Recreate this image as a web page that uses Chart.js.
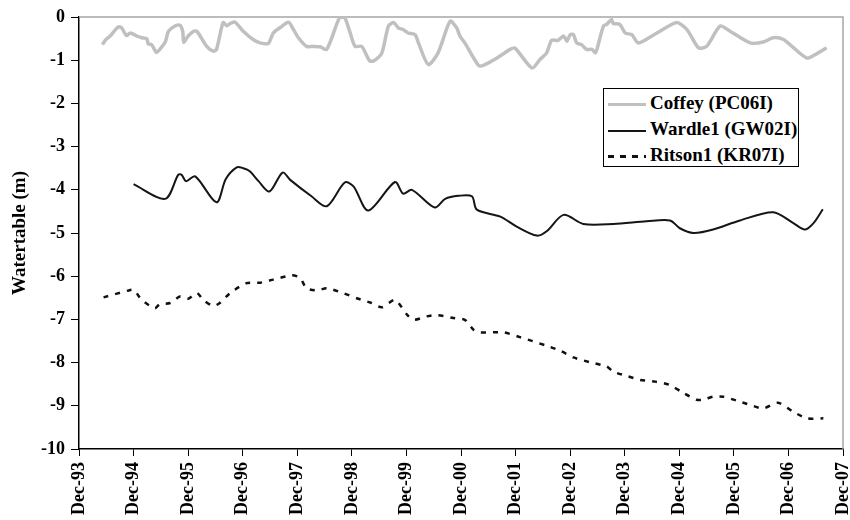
<!DOCTYPE html>
<html>
<head>
<meta charset="utf-8">
<script src="https://cdn.jsdelivr.net/npm/chart.js@4.4.1/dist/chart.umd.min.js"></script>
<style>
  body { margin: 0; background: #fff; }
  #wrap { position: relative; width: 850px; height: 520px; }
  #legend {
    position: absolute; left: 603px; top: 88px; width: 196px; height: 79px;
    border: 1px solid #000; background: #fff;
    font: bold 19px 'Liberation Serif', 'Times New Roman', serif; color: #000;
    box-sizing: border-box; padding-top: 1px;
  }
  #legend .row { height: 26px; line-height: 26px; white-space: nowrap; }
  #legend .swatch { display: inline-block; width: 38px; margin: 0 4px 0 4px; vertical-align: middle; }
</style>
</head>
<body>
<div id="wrap">
  <canvas id="chartWater" width="850" height="520"></canvas>
  <div id="legend"></div>
</div>
<script>
// Niveles freáticos (m) - eje x en años desde Dec-93
const tickLabels = ['Dec-93', 'Dec-94', 'Dec-95', 'Dec-96', 'Dec-97', 'Dec-98', 'Dec-99',
                    'Dec-00', 'Dec-01', 'Dec-02', 'Dec-03', 'Dec-04', 'Dec-05', 'Dec-06', 'Dec-07'];

const coffeyT = [0.43,0.48,0.57,0.72,0.78,0.87,0.94,1.06,1.15,1.24,
                 1.27,1.33,1.42,1.48,1.58,1.64,1.76,1.85,1.90,1.92,
                 2.00,2.10,2.16,2.34,2.46,2.52,2.64,2.71,2.77,2.86,
                 3.01,3.19,3.32,3.47,3.56,3.68,3.84,3.93,4.02,4.17,
                 4.29,4.42,4.54,4.78,4.87,4.97,5.06,5.18,5.33,5.42,
                 5.55,5.67,5.77,5.85,5.94,6.03,6.16,6.22,6.40,6.58,
                 6.80,6.92,6.98,7.07,7.32,7.41,7.62,7.90,7.99,8.30,
                 8.45,8.57,8.66,8.78,8.88,8.94,9.00,9.06,9.12,9.21,
                 9.30,9.40,9.46,9.49,9.61,9.67,9.76,9.79,9.91,10.01,
                 10.13,10.25,10.59,10.95,11.14,11.35,11.50,11.75,11.93,12.30,
                 12.54,12.72,12.91,13.09,13.34,13.49,13.70];
const coffeyLevel = [-0.64,-0.54,-0.44,-0.23,-0.25,-0.43,-0.37,-0.44,-0.48,-0.50,
                     -0.62,-0.64,-0.82,-0.75,-0.58,-0.33,-0.21,-0.19,-0.33,-0.58,
                     -0.44,-0.33,-0.33,-0.68,-0.79,-0.75,-0.13,-0.20,-0.15,-0.12,
                     -0.33,-0.52,-0.60,-0.61,-0.37,-0.25,-0.12,-0.29,-0.48,-0.68,
                     -0.68,-0.69,-0.75,0.0,-0.02,-0.37,-0.68,-0.68,-1.02,-1.00,
                     -0.83,-0.21,-0.13,-0.25,-0.29,-0.37,-0.41,-0.60,-1.10,-0.83,
                     -0.10,-0.25,-0.44,-0.60,-1.12,-1.12,-0.98,-0.75,-0.72,-1.18,
                     -0.98,-0.83,-0.54,-0.54,-0.44,-0.56,-0.41,-0.41,-0.60,-0.64,
                     -0.75,-0.75,-0.83,-0.75,-0.21,-0.17,-0.06,-0.15,-0.17,-0.37,
                     -0.41,-0.60,-0.37,-0.13,-0.29,-0.71,-0.68,-0.21,-0.33,-0.60,
                     -0.58,-0.48,-0.52,-0.71,-0.95,-0.87,-0.71];

const wardleT = [1.00,1.58,1.82,1.88,1.96,2.13,2.52,2.69,2.89,3.01,
                 3.13,3.29,3.49,3.73,3.87,4.26,4.54,4.87,5.03,5.30,
                 5.79,5.94,6.10,6.52,6.71,6.95,7.20,7.29,7.72,8.02,
                 8.39,8.57,8.88,9.24,9.79,10.40,10.83,11.01,11.26,11.62,
                 12.11,12.72,13.09,13.30,13.46,13.63];
const wardleLevel = [-3.87,-4.21,-3.65,-3.65,-3.80,-3.69,-4.29,-3.75,-3.48,-3.50,
                     -3.57,-3.80,-4.04,-3.60,-3.77,-4.15,-4.38,-3.83,-3.92,-4.48,
                     -3.82,-4.09,-4.00,-4.41,-4.21,-4.14,-4.15,-4.46,-4.62,-4.85,
                     -5.06,-4.96,-4.58,-4.79,-4.79,-4.73,-4.71,-4.89,-5.00,-4.92,
                     -4.71,-4.52,-4.77,-4.92,-4.77,-4.45];

const ritsonT = [0.45,0.94,1.01,1.15,1.39,1.48,1.67,1.85,2.00,2.16,
                 2.28,2.46,2.58,2.77,3.07,3.32,3.56,3.90,4.05,4.17,
                 4.36,4.54,4.84,5.09,5.36,5.55,5.79,6.01,6.13,6.37,
                 6.56,6.86,7.07,7.23,7.35,7.78,8.08,8.57,8.81,9.06,
                 9.36,9.67,9.79,10.04,10.28,10.56,10.83,11.07,11.32,11.44,
                 11.62,11.81,12.05,12.30,12.54,12.81,13.09,13.34,13.64];
const ritsonLevel = [-6.49,-6.32,-6.32,-6.55,-6.74,-6.65,-6.62,-6.47,-6.52,-6.39,
                     -6.55,-6.69,-6.62,-6.39,-6.16,-6.15,-6.08,-5.98,-6.04,-6.28,
                     -6.33,-6.28,-6.39,-6.51,-6.62,-6.72,-6.55,-6.89,-7.01,-6.93,
                     -6.90,-6.97,-7.01,-7.24,-7.30,-7.30,-7.41,-7.61,-7.72,-7.88,
                     -7.99,-8.09,-8.21,-8.31,-8.40,-8.44,-8.52,-8.70,-8.86,-8.86,
                     -8.79,-8.79,-8.88,-8.98,-9.06,-8.93,-9.14,-9.29,-9.29];

const toPoints = (xs, ys) => xs.map((x, i) => ({ x: x, y: ys[i] }));
const serif = "'Liberation Serif', 'Times New Roman', serif";

// marco gris arriba y a la derecha del área de trazado
const frame = {
    id: 'frame',
    beforeDatasetsDraw(chart) {
        const a = chart.chartArea, ctx = chart.ctx;
        ctx.save();
        ctx.strokeStyle = '#a6a6a6';
        ctx.lineWidth = 1.5;
        ctx.beginPath();
        ctx.moveTo(a.left, a.top);
        ctx.lineTo(a.right, a.top);
        ctx.lineTo(a.right, a.bottom);
        ctx.stroke();
        ctx.restore();
    }
};

const chart = new Chart(document.getElementById('chartWater'), {
    type: 'line',
    data: {
        datasets: [{
            label: 'Coffey (PC06I)',
            data: toPoints(coffeyT, coffeyLevel),
            borderColor: '#c0c0c0',
            borderWidth: 3.5,
            pointRadius: 0,
            tension: 0.25
        }, {
            label: 'Wardle1 (GW02I)',
            data: toPoints(wardleT, wardleLevel),
            borderColor: '#151515',
            borderWidth: 2,
            pointRadius: 0,
            tension: 0.3
        }, {
            label: 'Ritson1 (KR07I)',
            data: toPoints(ritsonT, ritsonLevel),
            borderColor: '#111111',
            borderWidth: 2.5,
            borderDash: [5, 7],
            pointRadius: 0,
            tension: 0.25
        }]
    },
    options: {
        responsive: false,
        animation: false,
        layout: { padding: { top: 17, right: 7, left: 0, bottom: 0 } },
        plugins: { legend: { display: false }, tooltip: { enabled: false } },
        scales: {
            x: {
                type: 'linear',
                min: 0,
                max: 14,
                afterFit: function(s) { s.height = 71; s.paddingLeft = 0; s.paddingRight = 0; },
                ticks: {
                    stepSize: 1,
                    autoSkip: false,
                    maxRotation: 90,
                    minRotation: 90,
                    padding: 6,
                    color: '#000',
                    font: { family: serif, size: 18, weight: 'bold' },
                    callback: function(value) { return tickLabels[value]; }
                },
                grid: { drawOnChartArea: false, tickLength: 7, color: '#000' },
                border: { color: '#000', width: 1.5 }
            },
            y: {
                min: -10,
                max: 0,
                afterFit: function(s) { s.width = 79; },
                ticks: {
                    stepSize: 1,
                    padding: 6,
                    color: '#000',
                    font: { family: serif, size: 18, weight: 'bold' }
                },
                grid: { drawOnChartArea: false, tickLength: 8, color: '#000' },
                border: { color: '#000', width: 1.5 },
                title: {
                    display: true,
                    text: 'Watertable (m)',
                    color: '#000',
                    padding: { top: 9, bottom: 0 },
                    font: { family: serif, size: 19, weight: 'bold' }
                }
            }
        }
    },
    plugins: [frame]
});

// leyenda en recuadro dentro del gráfico
const legend = document.getElementById('legend');
chart.data.datasets.forEach(function(ds) {
    const row = document.createElement('div');
    row.className = 'row';
    const sw = document.createElement('span');
    sw.className = 'swatch';
    sw.style.height = ds.borderWidth + 'px';
    if (ds.borderDash) {
        sw.style.background = 'repeating-linear-gradient(to right, ' + ds.borderColor +
            ' 0 6px, transparent 6px 12px)';
    } else {
        sw.style.background = ds.borderColor;
    }
    row.appendChild(sw);
    row.appendChild(document.createTextNode(ds.label));
    legend.appendChild(row);
});
</script>
</body>
</html>
